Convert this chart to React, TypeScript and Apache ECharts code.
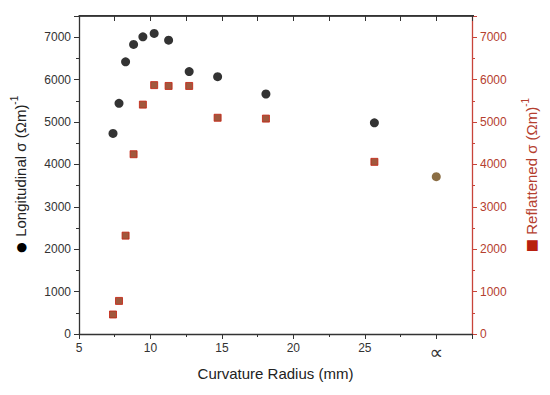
import React, { useEffect, useRef } from "react";
import * as echarts from "echarts";

const radii = [7.38, 7.8, 8.26, 8.82, 9.47, 10.26, 11.27, 12.71, 14.7, 18.08, 25.67];
const longitudinal = [4730, 5440, 6420, 6830, 7010, 7090, 6930, 6190, 6070, 5660, 4980];
const reflattened = [460, 780, 2320, 4240, 5410, 5870, 5850, 5850, 5100, 5080, 4060];
const flatX = [30];
const flatValue = [3710];
const xTickLabels: Record<number, string> = { 5: "5", 10: "10", 15: "15", 20: "20", 25: "25", 30: "{inf|∝}" };

const RED = "#c8443a";
const RED_TEXT = "#b5402f";

export default function App() {
  const ref = useRef<HTMLDivElement>(null);
  useEffect(() => {
    if (!ref.current) return;
    const chart = echarts.init(ref.current, undefined, { renderer: "svg" });
    const font = "Liberation Sans, Arial, sans-serif";
    chart.setOption({
      animation: false,
      textStyle: { fontFamily: font },
      grid: { left: 79, right: 76, top: 16, bottom: 61 },
      xAxis: [
        {
          type: "value",
          min: 5,
          max: 32.5,
          interval: 5,
          position: "bottom",
          name: "Curvature Radius (mm)",
          nameLocation: "middle",
          nameGap: 32,
          nameTextStyle: { fontSize: 15, color: "#222", fontFamily: font },
          axisLine: { onZero: false, lineStyle: { color: "#333", width: 1.3 } },
          axisTick: { show: true, length: 5, lineStyle: { color: "#333" } },
          minorTick: { show: true, splitNumber: 2, length: 3, lineStyle: { color: "#333" } },
          splitLine: { show: false },
          axisLabel: {
            fontSize: 12,
            color: "#333",
            margin: 8,
            showMaxLabel: false,
            formatter: (v: number) => xTickLabels[v] ?? "",
            rich: { inf: { fontSize: 19, color: "#333", fontFamily: "DejaVu Sans, sans-serif" } },
          },
        },
        {
          type: "value",
          min: 5,
          max: 32.5,
          interval: 5,
          position: "top",
          axisLine: { show: true, onZero: false, lineStyle: { color: "#333", width: 1.5 } },
          axisTick: { show: true, inside: true, length: 5, lineStyle: { color: "#333" } },
          minorTick: { show: true, splitNumber: 2, length: 5, lineStyle: { color: "#333" } },
          splitLine: { show: false },
          axisLabel: { show: false },
        },
      ],
      yAxis: [
        {
          type: "value",
          min: 0,
          max: 7500,
          interval: 1000,
          position: "left",
          name: "{dot|●} Longitudinal σ (Ωm){sup|-1}",
          nameLocation: "middle",
          nameGap: 48,
          nameRotate: 90,
          nameTextStyle: {
            fontSize: 15,
            color: "#222",
            fontFamily: font,
            rich: {
              dot: { fontSize: 22, color: "#000", fontFamily: font },
              sup: { fontSize: 10, color: "#222", verticalAlign: "top", padding: [0, 0, 8, 0], fontFamily: font },
            },
          },
          axisLine: { show: true, onZero: false, lineStyle: { color: "#333", width: 1.3 } },
          axisTick: { show: true, length: 5, lineStyle: { color: "#333" } },
          minorTick: { show: true, splitNumber: 2, length: 3, lineStyle: { color: "#333" } },
          splitLine: { show: false },
          axisLabel: { fontSize: 12, color: "#333", margin: 8, showMaxLabel: false, formatter: (v: number) => String(v) },
        },
        {
          type: "value",
          min: 0,
          max: 7500,
          interval: 1000,
          position: "right",
          name: "{sq|■} Reflattened σ (Ωm){sup|-1}",
          nameLocation: "middle",
          nameGap: 48,
          nameRotate: 90,
          nameTextStyle: {
            fontSize: 15,
            color: RED_TEXT,
            fontFamily: font,
            rich: {
              sq: { fontSize: 22, color: "#b8200f", fontFamily: font },
              sup: { fontSize: 10, color: RED_TEXT, verticalAlign: "top", padding: [0, 0, 8, 0], fontFamily: font },
            },
          },
          axisLine: { show: true, onZero: false, lineStyle: { color: RED, width: 1.3 } },
          axisTick: { show: true, length: 5, lineStyle: { color: RED } },
          minorTick: { show: true, splitNumber: 2, length: 3, lineStyle: { color: RED } },
          splitLine: { show: false },
          axisLabel: { fontSize: 12, color: RED_TEXT, margin: 8, showMaxLabel: false, formatter: (v: number) => String(v) },
        },
      ],
      graphic: [
        {
          type: "rect",
          shape: { x: 79, y: 15, width: 395, height: 1.5 },
          style: { fill: "#333" },
          z: 100,
        },
      ],
      series: [
        {
          type: "scatter",
          name: "Longitudinal",
          xAxisIndex: 0,
          yAxisIndex: 0,
          symbol: "circle",
          symbolSize: 9,
          itemStyle: { color: "#000" },
          data: radii.map((r, i) => [r, longitudinal[i]]),
        },
        {
          type: "scatter",
          name: "Reflattened",
          xAxisIndex: 0,
          yAxisIndex: 1,
          symbol: "rect",
          symbolSize: 7,
          itemStyle: { color: "#8a2e0c", borderColor: "#c41e0e", borderWidth: 1 },
          data: radii.map((r, i) => [r, reflattened[i]]),
        },
        {
          type: "scatter",
          name: "Flat",
          xAxisIndex: 1,
          yAxisIndex: 0,
          symbol: "circle",
          symbolSize: 9,
          itemStyle: { color: "#6e4a16" },
          data: flatX.map((x, i) => [x, flatValue[i]]),
        },
      ],
    });
    return () => chart.dispose();
  }, []);
  return <div ref={ref} style={{ width: 550, height: 395, position: "absolute", left: 0, top: 0 }} />;
}
